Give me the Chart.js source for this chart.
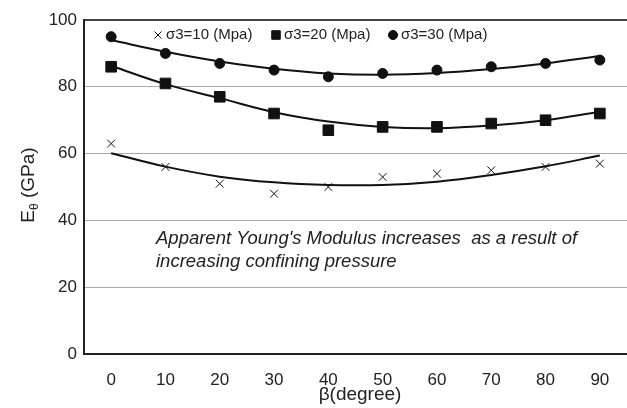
<!DOCTYPE html>
<html>
<head>
<meta charset="utf-8">
<script src="https://cdn.jsdelivr.net/npm/chart.js@4/dist/chart.umd.min.js"></script>
<style>
  html, body { margin: 0; padding: 0; background: #fff; }
  #wrap { width: 627px; height: 408px; }
</style>
</head>
<body>
<div id="wrap"><canvas id="chart"></canvas></div>
<script>
// beta (degree)
var angles = ['0', '10', '20', '30', '40', '50', '60', '70', '80', '90'];
// measured E (GPa)
var s10 = [63, 56, 51, 48, 50, 53, 54, 55, 56, 57];
var s20 = [86, 81, 77, 72, 67, 68, 68, 69, 70, 72];
var s30 = [95, 90, 87, 85, 83, 84, 85, 86, 87, 88];
// trend lines
var fit10 = [60.1, 56.1, 53.1, 51.4, 50.6, 50.6, 51.6, 53.6, 56.2, 59.4];
var fit20 = [86.3, 80.8, 76.6, 72.4, 69.6, 68.0, 67.6, 68.4, 70.0, 72.5];
var fit30 = [94.0, 90.5, 87.6, 85.4, 84.0, 83.6, 84.1, 85.3, 87.0, 89.2];
var yTicks = [0, 20, 40, 60, 80, 100];

var legendItems = [
  { text: 'σ3=10 (Mpa)', style: 'crossRot', r: 5, x: 158 },
  { text: 'σ3=20 (Mpa)', style: 'rect', r: 6, x: 276 },
  { text: 'σ3=30 (Mpa)', style: 'circle', r: 4.5, x: 393 }
];

var extras = {
  id: 'extras',
  afterDraw: function(chart) {
    var ctx = chart.ctx;
    ctx.save();
    ctx.fillStyle = '#222';
    ctx.strokeStyle = '#111';

    // legend
    ctx.font = '15px "Liberation Sans", Arial, sans-serif';
    ctx.textBaseline = 'middle';
    ctx.textAlign = 'left';
    legendItems.forEach(function(it) {
      ctx.fillStyle = '#111';
      ctx.lineWidth = 1;
      Chart.helpers.drawPoint(ctx, { pointStyle: it.style, radius: it.r, rotation: 0, borderWidth: 1 }, it.x, 35);
      if (it.style !== 'crossRot') ctx.fill();
      ctx.fillStyle = '#222';
      ctx.fillText(it.text, it.x + 8, 35);
    });

    // note
    ctx.font = 'italic 18.5px "Liberation Sans", Arial, sans-serif';
    ctx.textBaseline = 'alphabetic';
    ctx.fillText("Apparent Young's Modulus increases  as a result of", 156, 244);
    ctx.fillText('increasing confining pressure', 156, 267);

    // x title
    ctx.font = '19px "Liberation Sans", Arial, sans-serif';
    ctx.textAlign = 'center';
    ctx.fillText('β(degree)', 360, 400);

    // y title with subscript theta
    ctx.translate(34, 185);
    ctx.rotate(-Math.PI / 2);
    ctx.textAlign = 'left';
    var big = '19px "Liberation Sans", Arial, sans-serif';
    var small = '12px "Liberation Sans", Arial, sans-serif';
    ctx.font = big;
    var wE = ctx.measureText('E').width;
    ctx.font = small;
    var wT = ctx.measureText('θ').width;
    ctx.font = big;
    var wR = ctx.measureText(' (GPa)').width;
    var x0 = -(wE + wT + wR) / 2;
    ctx.fillText('E', x0, 0);
    ctx.font = small;
    ctx.fillText('θ', x0 + wE, 4);
    ctx.font = big;
    ctx.fillText(' (GPa)', x0 + wE + wT, 0);
    ctx.restore();
  }
};

function markers(label, data, style, r) {
  return {
    label: label,
    data: data,
    showLine: false,
    pointStyle: style,
    pointRadius: r,
    pointHoverRadius: r,
    pointBackgroundColor: '#111',
    pointBorderColor: '#111',
    pointBorderWidth: 1
  };
}
function trend(data) {
  return {
    label: 'trend',
    data: data,
    borderColor: '#111',
    borderWidth: 2,
    pointRadius: 0,
    tension: 0.4,
    fill: false
  };
}

new Chart(document.getElementById('chart'), {
  type: 'line',
  data: {
    labels: angles,
    datasets: [
      trend(fit10), trend(fit20), trend(fit30),
      markers('σ3=10 (Mpa)', s10, 'crossRot', 5.5),
      markers('σ3=20 (Mpa)', s20, 'rect', 7.5),
      markers('σ3=30 (Mpa)', s30, 'circle', 5)
    ]
  },
  options: {
    responsive: true,
    maintainAspectRatio: false,
    animation: false,
    layout: { autoPadding: false, padding: { top: 20, right: 0, left: 0, bottom: 0 } },
    plugins: {
      legend: { display: false },
      tooltip: { enabled: false }
    },
    scales: {
      x: {
        offset: true,
        grid: { display: false },
        border: { display: true, color: '#222', width: 2 },
        ticks: { color: '#222', font: { size: 17, family: '"Liberation Sans", Arial, sans-serif' }, padding: 8 },
        afterFit: function(s) { s.height = 54; s.paddingLeft = 0; s.paddingRight = 0; }
      },
      y: {
        min: 0,
        max: 100,
        afterBuildTicks: function(s) { s.ticks = yTicks.map(function(v) { return { value: v }; }); },
        grid: {
          drawTicks: false,
          color: function(c) { return c.tick.value === 100 ? '#444' : (c.tick.value === 0 ? 'rgba(0,0,0,0)' : '#aaa'); },
          lineWidth: function(c) { return c.tick.value === 100 ? 2 : 1; }
        },
        border: { display: true, color: '#222', width: 2 },
        ticks: { color: '#222', font: { size: 17, family: '"Liberation Sans", Arial, sans-serif' }, padding: 7 },
        afterFit: function(s) { s.width = 84; }
      }
    }
  },
  plugins: [extras]
});
</script>
</body>
</html>
